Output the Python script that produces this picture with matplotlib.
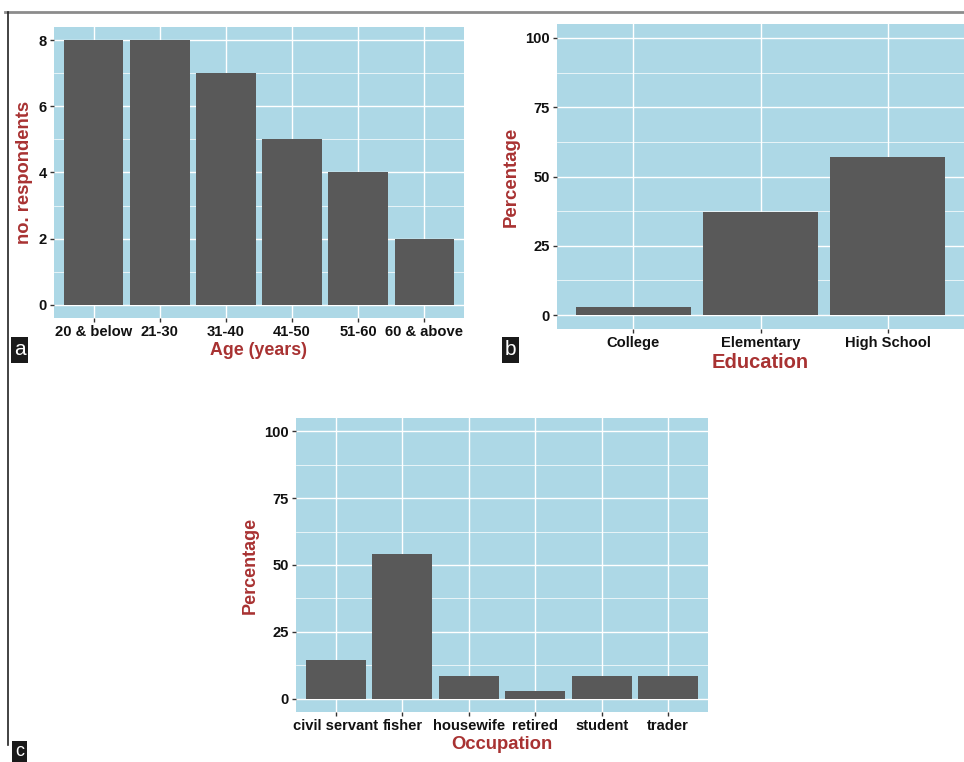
import matplotlib
matplotlib.use("Agg")
import matplotlib.pyplot as plt
from matplotlib.lines import Line2D
from matplotlib.ticker import MultipleLocator

plt.rcParams['font.family'] = ['Liberation Sans', 'DejaVu Sans']

# data
age_groups = ['20 & below', '21-30', '31-40', '41-50', '51-60', '60 & above']
age_counts = [8, 8, 7, 5, 4, 2]

education = ['College', 'Elementary', 'High School']
education_pct = [2.9, 37.1, 57.1]

occupation = ['civil servant', 'fisher', 'housewife', 'retired', 'student', 'trader']
occupation_pct = [14.3, 54.3, 8.6, 2.9, 8.6, 8.6]

BG = '#ADD8E6'
BAR = '#595959'
LAB = '#A83232'

W, H = 964, 762
fig = plt.figure(figsize=(W / 100, H / 100), dpi=100)


def box(l, t, r, b):
    return [l / W, 1 - b / H, (r - l) / W, (b - t) / H]


def panel(rect, cats, vals, ylim, major, minor, xlabel, ylabel, xl_size, yl_size):
    ax = fig.add_axes(rect)
    ax.set_facecolor(BG)
    x = list(range(len(cats)))
    ax.bar(x, vals, width=0.9, color=BAR, zorder=3)
    ax.set_xlim(-0.6, len(cats) - 0.4)
    ax.set_ylim(*ylim)
    ax.set_xticks(x)
    ax.set_xticklabels(cats, fontsize=10.6, fontweight='bold', color='#111111')
    ax.yaxis.set_major_locator(MultipleLocator(major))
    ax.yaxis.set_minor_locator(MultipleLocator(minor))
    for lbl in ax.get_yticklabels():
        lbl.set_fontsize(10.6)
        lbl.set_fontweight('bold')
        lbl.set_color('#111111')
    ax.tick_params(axis='both', which='major', length=3, width=1, color='#333333', pad=2)
    ax.tick_params(axis='y', which='minor', length=0)
    ax.grid(True, which='major', color='white', linewidth=1.0, zorder=0)
    ax.grid(True, which='minor', axis='y', color='white', linewidth=0.5, zorder=0)
    ax.set_axisbelow(True)
    for s in ax.spines.values():
        s.set_visible(False)
    ax.set_xlabel(xlabel, fontsize=xl_size, fontweight='bold', color=LAB, labelpad=2.5)
    ax.set_ylabel(ylabel, fontsize=yl_size, fontweight='bold', color=LAB, labelpad=4)
    return ax


axa = panel(box(54, 27, 464, 318), age_groups, age_counts, (-0.4, 8.4), 2, 1,
            'Age (years)', 'no. respondents', 12.8, 13.2)
axb = panel(box(557, 24, 964, 329), education, education_pct, (-5, 105), 25, 12.5,
            'Education', 'Percentage', 14.5, 13.4)
axc = panel(box(296, 418, 708, 712), occupation, occupation_pct, (-5, 105), 25, 12.5,
            'Occupation', 'Percentage', 13.3, 13)

# frame lines
fig.add_artist(Line2D([5 / W, 1], [1 - 12 / H, 1 - 12 / H], color='#8c8c8c', linewidth=2))
fig.add_artist(Line2D([8 / W, 8 / W], [1 - 12 / H, 1 - 745 / H], color='#222222', linewidth=1.2))

# panel letters (centre x, centre y in pixels)
for letter, (cx, cy, fs) in zip(['a', 'b', 'c'], [(19.5, 350, 15), (510.5, 350, 15), (19.5, 752, 13)]):
    fig.text(cx / W, 1 - cy / H, letter, fontsize=fs, color='white',
             ha='center', va='center',
             bbox=dict(boxstyle='square,pad=0.15', facecolor='#1a1a1a', edgecolor='none'))

fig.savefig('out.png', dpi=100)
